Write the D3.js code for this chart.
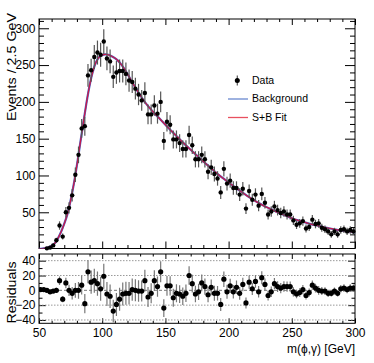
<!DOCTYPE html>
<html><head><meta charset="utf-8">
<script src="https://cdn.jsdelivr.net/npm/d3@7"></script>
<style>html,body{margin:0;padding:0;background:#fff;} svg{display:block;font-family:"Liberation Sans",Arial,Helvetica,sans-serif;}</style>
</head><body><svg id="c" width="374" height="363"></svg>
<script>
// ---- data ----
const massBins = [51.25,53.75,56.25,58.75,61.25,63.75,66.25,68.75,71.25,73.75,
76.25,78.75,81.25,83.75,86.25,88.75,91.25,93.75,96.25,98.75,
101.25,103.75,106.25,108.75,111.25,113.75,116.25,118.75,121.25,123.75,
126.25,128.75,131.25,133.75,136.25,138.75,141.25,143.75,146.25,148.75,
151.25,153.75,156.25,158.75,161.25,163.75,166.25,168.75,171.25,173.75,
176.25,178.75,181.25,183.75,186.25,188.75,191.25,193.75,196.25,198.75,
201.25,203.75,206.25,208.75,211.25,213.75,216.25,218.75,221.25,223.75,
226.25,228.75,231.25,233.75,236.25,238.75,241.25,243.75,246.25,248.75,
251.25,253.75,256.25,258.75,261.25,263.75,266.25,268.75,271.25,273.75,
276.25,278.75,281.25,283.75,286.25,288.75,291.25,293.75,296.25,298.75];

const dataCounts = [0,0,1,2,5,12,32,17,50,56,
73,101,128,164,167,236,243,261,267,264,
282,259,255,234,240,242,242,238,229,227,
218,210,202,212,183,183,195,184,200,147,
173,169,149,149,144,136,136,155,141,122,
122,128,122,105,111,102,96,77,109,89,
93,83,83,74,82,55,79,67,74,59,
75,63,47,51,58,53,49,51,47,47,
39,33,35,38,28,30,40,34,35,29,
27,24,20,24,20,26,27,24,26,24];

const dataErrors = [0,0,1,1.4,2.2,3.5,5.7,4.1,7.1,7.5,
8.5,10,11.3,12.8,12.9,15.4,15.6,16.2,16.3,16.2,
16.8,16.1,16,15.3,15.5,15.6,15.6,15.4,15.1,15.1,
14.8,14.5,14.2,14.6,13.5,13.5,14,13.6,14.1,12.1,
13.2,13,12.2,12.2,12,11.7,11.7,12.4,11.9,11,
11,11.3,11,10.2,10.5,10.1,9.8,8.8,10.4,9.4,
9.6,9.1,9.1,8.6,9.1,7.4,8.9,8.2,8.6,7.7,
8.7,7.9,6.9,7.1,7.6,7.3,7,7.1,6.9,6.9,
6.2,5.7,5.9,6.2,5.3,5.5,6.3,5.8,5.9,5.4,
5.2,4.9,4.5,4.9,4.5,5.1,5.2,4.9,5.1,4.9];

const residuals = [1,1,0,-2,-1,0,13,-12,10,0,
-4,0,0,7,-18,25,11,13,9,2,
19,-5,-8,-28,-19,-12,-5,-4,-4,1,
0,-1,-1,13,-9,-4,13,5,25,-24,
6,6,-10,-4,-5,-8,-4,20,9,-5,
-2,10,5,-6,4,-4,-4,-19,15,-2,
6,-2,4,-4,8,-17,11,2,12,-2,
17,8,-7,-2,9,5,3,5,5,5,
-2,-5,-3,1,-7,-3,7,3,0,-1,
-1,-4,-4,-1,-4,2,3,1,3,3];

const fitMass = [50,52.5,55,57.5,60,62.5,65,67.5,70,72.5,75,77.5,80,82.5,85,87.5,90,92.5,95,97.5,
100,102.5,105,107.5,110,112.5,115,117.5,120,125,130,135,140,145,150,155,160,165,170,175,
180,185,190,195,200,205,210,215,220,225,230,235,240,245,250,255,260,265,270,275,280,285,290,295,300];
const backgroundFit = [0.3,0.7,1.4,2.6,4.6,8,14.5,23.5,34.5,47.5,66,88,114,142.5,171,198,222,240.5,253.5,260.5,
263.5,264.5,264,262,259.5,256,251,245,238,223,209,197,187,178,169,160,151.5,143,135,127,
119,111.5,104,97,90.5,84,78,72,66.5,61.5,57,53,49,45.5,42,39,36.5,34,32,30,28,26.5,25,23.8,22.7];
const sbFit = backgroundFit.slice();

const xTickLabels = [50,100,150,200,250,300];
const yTickLabels = [50,100,150,200,250,300];
const resTickLabels = [-40,-20,0,20,40];
const legendLabels = ["Data","Background","S+B Fit"];

// ---- layout ----
const svg = d3.select('#c');
const L = 39, R = 355, T1 = 19, B1 = 248.5, T2 = 254, B2 = 323.3;
const x = d3.scaleLinear().domain([50,300]).range([L,R]);
const yTop = d3.scaleLinear().domain([0.8,312.6]).range([B1,T1]);
const yRes = d3.scaleLinear().domain([-44.5,49]).range([B2,T2]);

const xMinor = d3.range(60,300,10).filter(v=>v%50!==0);
const yMinor = d3.range(10,311,10).filter(v=>v%50!==0);
const rMinor = [-30,-10,10,30];

const defs = svg.append('defs');
defs.append('clipPath').attr('id','clipTop').append('rect').attr('x',L).attr('y',T1).attr('width',R-L).attr('height',B1-T1);
defs.append('clipPath').attr('id','clipRes').append('rect').attr('x',L).attr('y',T2).attr('width',R-L).attr('height',B2-T2);

function styleAxis(g){
  g.select('.domain').remove();
  g.selectAll('.tick line').attr('stroke','#000').attr('stroke-width',1);
  g.selectAll('.tick text').attr('fill','#000').style('font-size','12px').style('font-family','"Liberation Sans",Arial,sans-serif');
}
function addAxis(axis, tx, ty){
  const g = svg.append('g').attr('transform',`translate(${tx},${ty})`).call(axis);
  styleAxis(g); return g;
}
// top panel axes
addAxis(d3.axisLeft(yTop).tickValues(yTickLabels).tickSize(-10).tickPadding(3.5).tickFormat(d3.format('d')), L, 0);
addAxis(d3.axisLeft(yTop).tickValues(yMinor).tickSize(-5).tickFormat(''), L, 0);
addAxis(d3.axisRight(yTop).tickValues(yTickLabels).tickSize(-10).tickFormat(''), R, 0);
addAxis(d3.axisRight(yTop).tickValues(yMinor).tickSize(-5).tickFormat(''), R, 0);
addAxis(d3.axisBottom(x).tickValues(xTickLabels).tickSize(-7).tickFormat(''), 0, B1);
addAxis(d3.axisBottom(x).tickValues(xMinor).tickSize(-3.5).tickFormat(''), 0, B1);
addAxis(d3.axisTop(x).tickValues(xTickLabels).tickSize(-6).tickFormat(''), 0, T1);
addAxis(d3.axisTop(x).tickValues(xMinor).tickSize(-3).tickFormat(''), 0, T1);
// residual axes
addAxis(d3.axisLeft(yRes).tickValues(resTickLabels).tickSize(-7).tickPadding(3.5).tickFormat(d3.format('d')), L, 0)
  .selectAll('.tick text').text(d=> d<0 ? '\u2212'+Math.abs(d) : d);
addAxis(d3.axisLeft(yRes).tickValues(rMinor).tickSize(-3.5).tickFormat(''), L, 0);
addAxis(d3.axisRight(yRes).tickValues(resTickLabels).tickSize(-7).tickFormat(''), R, 0);
addAxis(d3.axisRight(yRes).tickValues(rMinor).tickSize(-3.5).tickFormat(''), R, 0);
addAxis(d3.axisBottom(x).tickValues(xTickLabels).tickSize(-5).tickPadding(5).tickFormat(d3.format('d')), 0, B2);
addAxis(d3.axisBottom(x).tickValues(xMinor).tickSize(-2.5).tickFormat(''), 0, B2);
addAxis(d3.axisTop(x).tickValues(xTickLabels).tickSize(-5).tickFormat(''), 0, T2);
addAxis(d3.axisTop(x).tickValues(xMinor).tickSize(-2.5).tickFormat(''), 0, T2);

// residual grid lines
svg.append('g').selectAll('line').data(resTickLabels).join('line')
  .attr('x1',L).attr('x2',R).attr('y1',d=>yRes(d)).attr('y2',d=>yRes(d))
  .attr('stroke',d=> d===0 ? '#777' : '#999').attr('stroke-width',1)
  .attr('stroke-dasharray',d=> d===0 ? '3,2' : '1.5,1.5');

// frames
svg.append('rect').attr('x',L).attr('y',T1).attr('width',R-L).attr('height',B1-T1).attr('fill','none').attr('stroke','#000');
svg.append('rect').attr('x',L).attr('y',T2).attr('width',R-L).attr('height',B2-T2).attr('fill','none').attr('stroke','#000');

// fit curves
const fitPts = (arr)=> fitMass.map((m,i)=>({m, v:arr[i]}));
const line = d3.line().x(d=>x(d.m)).y(d=>yTop(d.v)).curve(d3.curveCatmullRom.alpha(0.5));
const gc = svg.append('g').attr('clip-path','url(#clipTop)');
gc.append('path').datum(fitPts(backgroundFit)).attr('d',line).attr('fill','none').attr('stroke','#4a68c8').attr('stroke-width',2.2);
gc.append('path').datum(fitPts(sbFit)).attr('d',line).attr('fill','none').attr('stroke','#c8184a').attr('stroke-width',1.3);

// data points
const pts = massBins.map((m,i)=>({m, v:dataCounts[i], e:dataErrors[i], r:residuals[i]}));
const gd = svg.append('g');
gd.selectAll('line.err').data(pts.filter(d=>d.v>0)).join('line').attr('class','err')
  .attr('x1',d=>x(d.m)).attr('x2',d=>x(d.m))
  .attr('y1',d=>yTop(Math.max(d.v-d.e,0.8))).attr('y2',d=>yTop(d.v+d.e))
  .attr('stroke','#555').attr('stroke-width',1.2);
gd.selectAll('circle').data(pts.filter(d=>d.v>0)).join('circle')
  .attr('cx',d=>x(d.m)).attr('cy',d=>yTop(d.v)).attr('r',2.2).attr('fill','#000');

// residual points
const gr = svg.append('g').attr('clip-path','url(#clipRes)');
gr.selectAll('line').data(pts).join('line')
  .attr('x1',d=>x(d.m)).attr('x2',d=>x(d.m))
  .attr('y1',d=>yRes(d.r-d.e)).attr('y2',d=>yRes(d.r+d.e))
  .attr('stroke','#777').attr('stroke-width',1.2);
gr.selectAll('circle').data(pts).join('circle')
  .attr('cx',d=>x(d.m)).attr('cy',d=>yRes(d.r)).attr('r',2.6).attr('fill','#000');

// legend
const lg = svg.append('g');
lg.append('line').attr('x1',237.3).attr('x2',237.3).attr('y1',75.5).attr('y2',85.5).attr('stroke','#555').attr('stroke-width',1.2);
lg.append('circle').attr('cx',237.3).attr('cy',80.5).attr('r',2.5).attr('fill','#000');
lg.append('line').attr('x1',228).attr('x2',248).attr('y1',99).attr('y2',99).attr('stroke','#6a88d0').attr('stroke-width',1.3);
lg.append('line').attr('x1',228).attr('x2',248).attr('y1',117.5).attr('y2',117.5).attr('stroke','#e8505f').attr('stroke-width',1.3);
lg.selectAll('text').data(legendLabels).join('text')
  .attr('x',252).attr('y',(d,i)=>84+i*18.4).text(d=>d)
  .style('font-size','10.5px').attr('fill','#000');

// axis titles
svg.append('text').attr('transform','translate(15.5,13) rotate(-90)').attr('text-anchor','end')
  .attr('textLength',108).attr('lengthAdjust','spacingAndGlyphs')
  .style('font-size','12.5px').text('Events / 2.5 GeV');
svg.append('text').attr('transform','translate(15.5,261.5) rotate(-90)').attr('text-anchor','end')
  .attr('textLength',62).attr('lengthAdjust','spacingAndGlyphs')
  .style('font-size','12.5px').text('Residuals');
svg.append('text').attr('x',355).attr('y',353).attr('text-anchor','end')
  .style('font-size','12px').text('m(\u03d5,\u03b3) [GeV]');
</script></body></html>
